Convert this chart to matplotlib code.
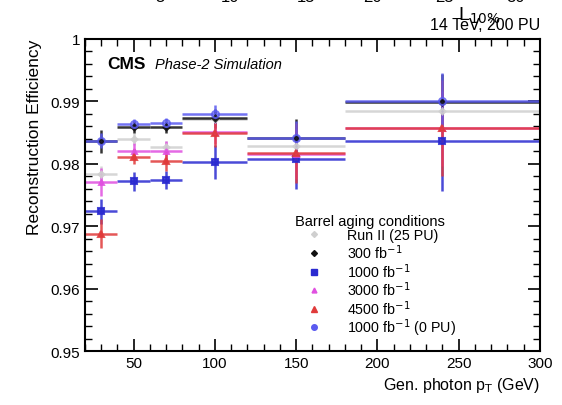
import numpy as np
import matplotlib
matplotlib.use("Agg")
import matplotlib.pyplot as plt
from matplotlib.lines import Line2D
from matplotlib.ticker import MultipleLocator, FuncFormatter

plt.rcParams['font.family'] = ['Liberation Sans', 'DejaVu Sans']

# bin edges in gen photon pT (GeV)
edges = np.array([20, 40, 60, 80, 120, 180, 300])

labels = ["Run II (25 PU)", "300 fb$^{-1}$", "1000 fb$^{-1}$",
          "3000 fb$^{-1}$", "4500 fb$^{-1}$", "1000 fb$^{-1}$ (0 PU)"]

eff_run2 = [0.9784, 0.9840, 0.9827, 0.9872, 0.9829, 0.9885]
eff_300 = [0.9836, 0.9859, 0.9859, 0.9873, 0.9841, 0.9899]
eff_1000 = [0.9724, 0.9772, 0.9774, 0.9803, 0.9808, 0.9837]
eff_3000 = [0.9771, 0.9821, 0.9821, 0.9851, 0.9815, 0.9857]
eff_4500 = [0.9688, 0.9811, 0.9805, 0.9849, 0.9817, 0.9857]
eff_0pu = [0.9837, 0.9864, 0.9866, 0.9880, 0.9842, 0.9900]

err_run2 = [0.0012, 0.0010, 0.0010, 0.0012, 0.0020, 0.0030]
err_300 = [0.0018, 0.0010, 0.0010, 0.0015, 0.0030, 0.0045]
err_1000 = [0.0020, 0.0015, 0.0015, 0.0027, 0.0048, 0.0080]
err_3000 = [0.0022, 0.0012, 0.0015, 0.0020, 0.0040, 0.0060]
err_4500 = [0.0023, 0.0012, 0.0016, 0.0022, 0.0048, 0.0077]
err_0pu = [0.0012, 0.0008, 0.0008, 0.0015, 0.0027, 0.0045]

effs = [eff_run2, eff_300, eff_1000, eff_3000, eff_4500, eff_0pu]
errs = [err_run2, err_300, err_1000, err_3000, err_4500, err_0pu]
colors = ['#cfcfcf', '#111111', '#2a2ad0', '#e050e0', '#e03a3a', '#5a5af0']
markers = ['D', 'D', 's', '^', '^', 'o']
msizes = [3, 3, 4, 3.5, 4.5, 5]
faces = ['#cfcfcf', '#111111', '#2a2ad0', '#e050e0', '#e03a3a', 'none']

centers = 0.5 * (edges[1:] + edges[:-1])
halfw = 0.5 * (edges[1:] - edges[:-1])

fig = plt.figure(figsize=(5.62, 4.06), dpi=100)
ax = fig.add_axes([0.1512, 0.133, 0.8096, 0.7685])

for eff, err, c, m, ms, fc in zip(effs, errs, colors, markers, msizes, faces):
    ax.errorbar(centers, eff, xerr=halfw, yerr=err, fmt=m, color=c, ms=ms,
                mfc=fc, mec=c, mew=1.5, elinewidth=1.8, capsize=0, alpha=0.85)

ax.set_xlim(20, 300)
ax.set_ylim(0.95, 1.0)
ax.xaxis.set_major_locator(MultipleLocator(50))
ax.xaxis.set_minor_locator(MultipleLocator(10))
ax.yaxis.set_major_locator(MultipleLocator(0.01))
ax.yaxis.set_minor_locator(MultipleLocator(0.002))
ax.yaxis.set_major_formatter(FuncFormatter(lambda v, p: "1" if abs(v - 1) < 1e-9 else f"{v:.2f}"))
ax.tick_params(which='both', direction='in', top=True, right=True, labelsize=11)
ax.tick_params(which='major', length=9, width=1.2)
ax.tick_params(which='minor', length=5, width=1.0)
for s in ax.spines.values():
    s.set_linewidth(1.5)

ax.set_ylabel("Reconstruction Efficiency", fontsize=12.5, loc='top', labelpad=6)
ax.set_xlabel("Gen. photon p$_{\\mathrm{T}}$ (GeV)", fontsize=11.5, loc='right')

ax.text(0.05, 0.92, "CMS", transform=ax.transAxes, fontsize=12.5, fontweight='bold', va='center')
ax.text(0.155, 0.92, "Phase-2 Simulation", transform=ax.transAxes, fontsize=10.5, style='italic', va='center')
fig.text(0.961, 0.918, "14 TeV, 200 PU", ha='right', va='bottom', fontsize=11.5)
fig.text(0.815, 0.935, "L$_{10\\%}$", ha='left', va='bottom', fontsize=14)

# tick labels of the plot above, cut by the top edge
for xp, t in zip([160, 230, 306, 372, 444, 516], ["5", "10", "15", "20", "25", "30"]):
    fig.text(xp / 562, 0.988, t, ha='center', va='bottom', fontsize=12)

handles = [Line2D([], [], ls='none', marker=m, color=c, mfc=c, ms=min(ms, 4))
           for c, m, ms in zip(colors, markers, msizes)]
leg = ax.legend(handles, labels, title="Barrel aging conditions", frameon=False,
                loc='upper left', bbox_to_anchor=(0.44, 0.47), fontsize=10.3,
                title_fontsize=10.5, handletextpad=0.9, labelspacing=0.0,
                borderpad=0.2, handlelength=2.7)
leg._legend_box.align = "left"

fig.savefig("out.png", dpi=100)
